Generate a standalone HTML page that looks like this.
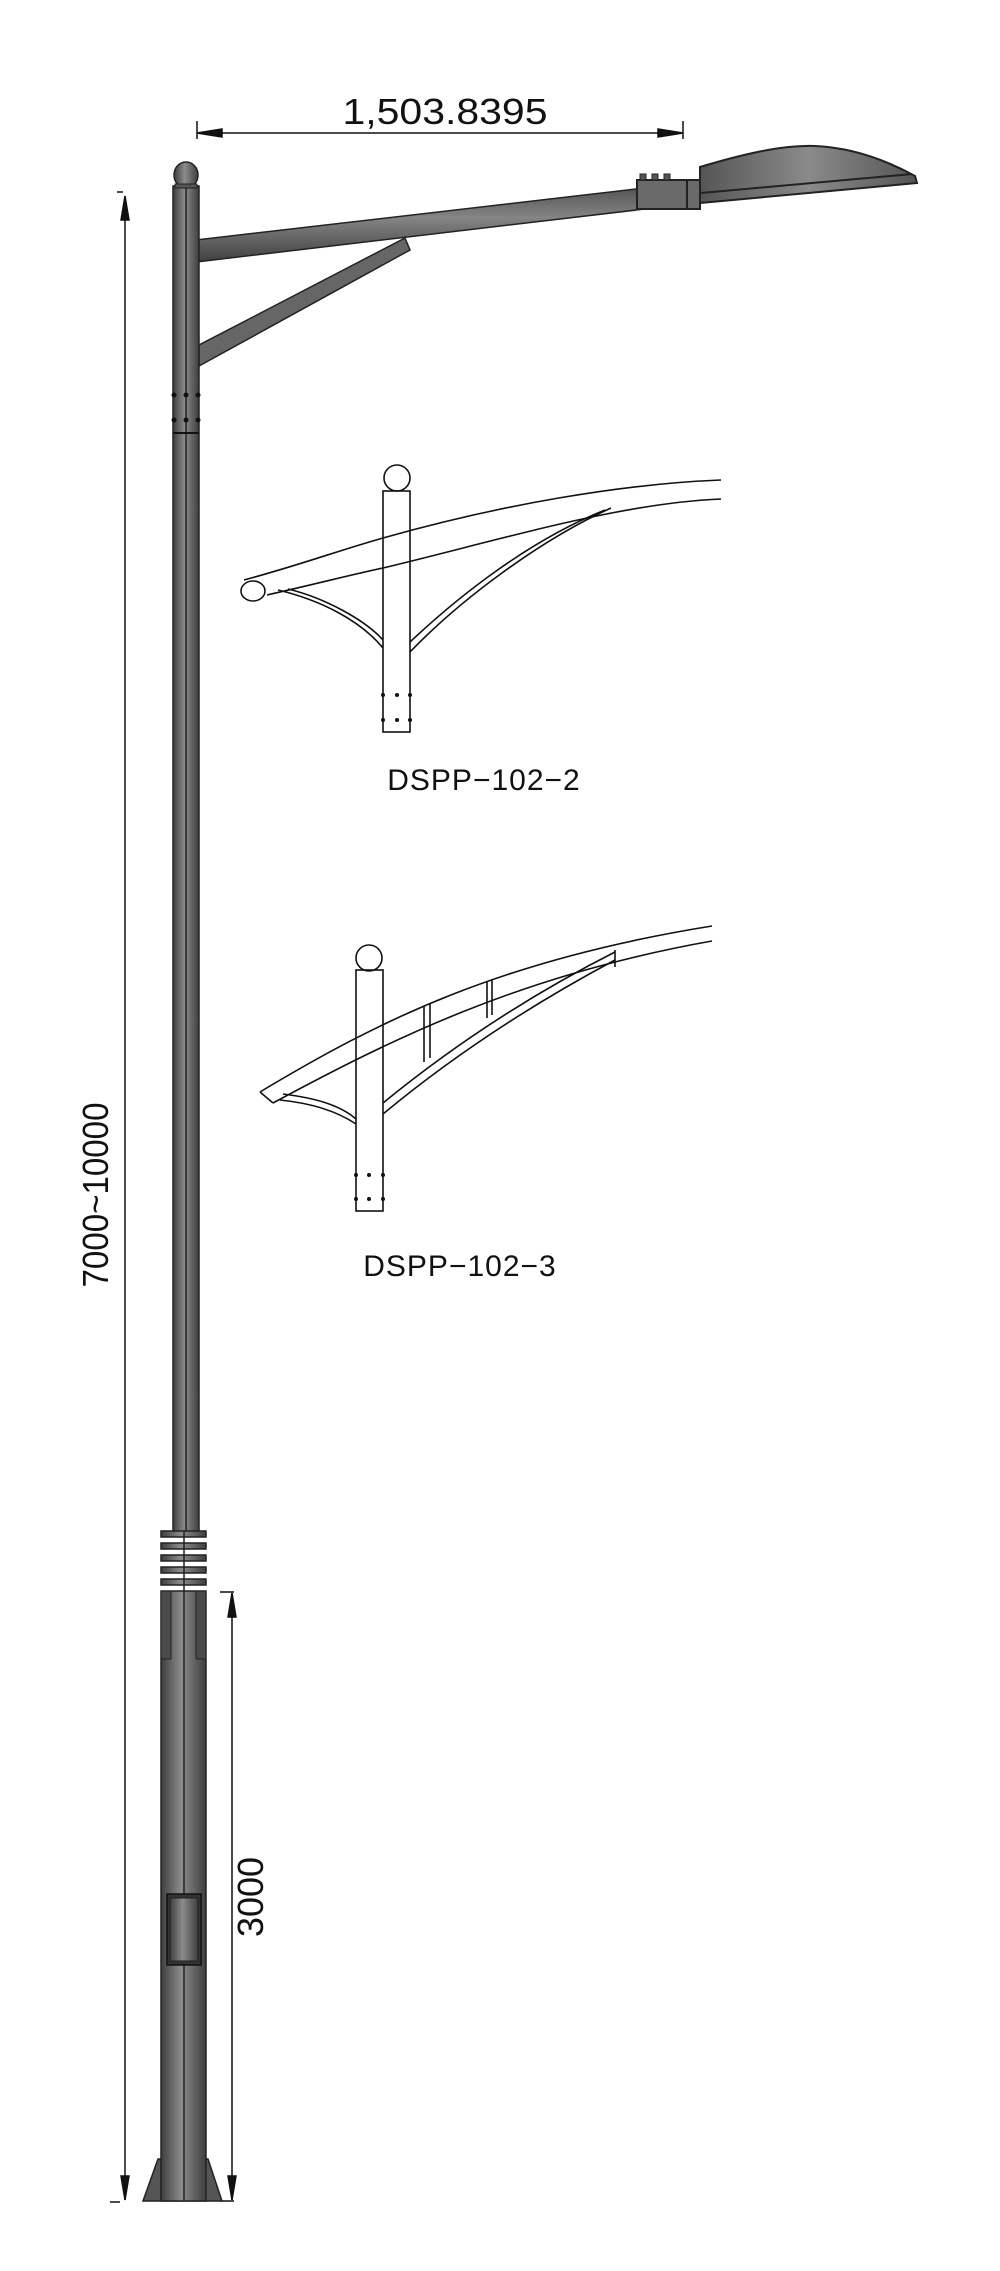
<!DOCTYPE html>
<html><head><meta charset="utf-8"><style>
html,body{margin:0;padding:0;background:#fff;}
svg{display:block;}
text{font-family:"Liberation Sans",sans-serif;}
</style></head><body>
<svg width="1000" height="2271" viewBox="0 0 1000 2271" xmlns="http://www.w3.org/2000/svg">
<defs>
<linearGradient id="pg" x1="0" x2="1" y1="0" y2="0">
<stop offset="0" stop-color="#3e3e3e"/><stop offset="0.45" stop-color="#8c8c8c"/><stop offset="1" stop-color="#3e3e3e"/></linearGradient>
<linearGradient id="ag" x1="0" x2="0" y1="0" y2="1">
<stop offset="0" stop-color="#555"/><stop offset="0.4" stop-color="#858585"/><stop offset="1" stop-color="#404040"/></linearGradient>
<linearGradient id="lg" x1="0" x2="1" y1="0" y2="0">
<stop offset="0" stop-color="#555"/><stop offset="0.5" stop-color="#8a8a8a"/><stop offset="1" stop-color="#555"/></linearGradient>
</defs>
<g stroke="#111" stroke-width="1.5">
<line x1="197" y1="133" x2="683" y2="133" />
<line x1="197" y1="121" x2="197" y2="139"/>
<line x1="683" y1="121" x2="683" y2="139"/>
<polygon points="197,133 222,129 222,137" fill="#111"/>
<polygon points="683,133 658,129 658,137" fill="#111"/>
<line x1="125" y1="196" x2="125" y2="2200"/>
<line x1="117" y1="192" x2="123" y2="192"/>
<line x1="110" y1="2202" x2="120" y2="2202"/>
<polygon points="125,196 121,220 129,220" fill="#111"/>
<polygon points="125,2200 121,2176 129,2176" fill="#111"/>
<line x1="232" y1="1593" x2="232" y2="2200"/>
<line x1="220" y1="1592" x2="234" y2="1592"/>
<line x1="220" y1="2201" x2="234" y2="2201"/>
<polygon points="232,1593 228,1617 236,1617" fill="#111"/>
<polygon points="232,2200 228,2176 236,2176" fill="#111"/>
</g>
<text x="445" y="124" font-size="36" text-anchor="middle" fill="#111" textLength="205" lengthAdjust="spacingAndGlyphs">1,503.8395</text>
<text transform="translate(108,1195) rotate(-90)" font-size="36" text-anchor="middle" fill="#111" textLength="185" lengthAdjust="spacingAndGlyphs">7000~10000</text>
<text transform="translate(263,1897) rotate(-90)" font-size="36" text-anchor="middle" fill="#111" textLength="80" lengthAdjust="spacingAndGlyphs">3000</text>

<polygon points="196,240 645,188 645,209 196,262" fill="url(#ag)" stroke="#222" stroke-width="1.5"/>
<polygon points="405,238 410,250 199,366 199,345" fill="#666" stroke="#222" stroke-width="1.5"/>
<rect x="637" y="180" width="63" height="29" fill="#6a6a6a" stroke="#222" stroke-width="2"/>
<line x1="687" y1="180" x2="687" y2="209" stroke="#222" stroke-width="2"/>
<rect x="640" y="174" width="6" height="6" fill="#555" stroke="#222"/>
<rect x="652" y="174" width="6" height="6" fill="#555" stroke="#222"/>
<rect x="664" y="174" width="6" height="6" fill="#555" stroke="#222"/>
<path d="M700,167 C740,155 780,145 815,146 C860,148 895,165 915,176 L917,183 L700,203 Z" fill="url(#lg)" stroke="#222" stroke-width="2"/>
<line x1="701" y1="193" x2="912" y2="174" stroke="#222" stroke-width="2"/>

<rect x="173" y="186" width="26" height="1350" fill="url(#pg)" stroke="#222" stroke-width="1.5"/>
<line x1="186" y1="186" x2="186" y2="1536" stroke="#222" stroke-width="1.5"/>
<ellipse cx="186" cy="175" rx="12" ry="13" fill="url(#pg)" stroke="#222" stroke-width="1.5"/>
<rect x="175" y="184" width="22" height="4" fill="#555" stroke="#222"/>
<g fill="#111">
<circle cx="174" cy="395" r="2.5"/><circle cx="186" cy="395" r="2.5"/><circle cx="198" cy="395" r="2.5"/>
<circle cx="174" cy="420" r="2.5"/><circle cx="186" cy="420" r="2.5"/><circle cx="198" cy="420" r="2.5"/>
</g>
<line x1="173" y1="433" x2="199" y2="433" stroke="#111" stroke-width="2"/>

<g fill="url(#pg)" stroke="#222" stroke-width="1.5">
<rect x="161" y="1531" width="45" height="6"/>
<rect x="161" y="1543" width="45" height="6"/>
<rect x="161" y="1555" width="45" height="6"/>
<rect x="161" y="1567" width="45" height="6"/>
<rect x="161" y="1579" width="45" height="6"/>
</g>
<polygon points="158,2159 143,2201 222,2201 208,2159" fill="#555" stroke="#222" stroke-width="1.5"/>
<rect x="161" y="1591" width="45" height="610" fill="url(#pg)" stroke="#222" stroke-width="1.5"/>
<rect x="161" y="1591" width="10" height="68" fill="#4a4a4a" stroke="#222"/>
<rect x="196" y="1591" width="10" height="68" fill="#4a4a4a" stroke="#222"/>
<line x1="184" y1="1531" x2="184" y2="2201" stroke="#222" stroke-width="1.5"/>
<rect x="167" y="1894" width="34" height="71" fill="#333" stroke="#111" stroke-width="1.5"/>
<rect x="170" y="1898" width="28" height="63" fill="url(#pg)" stroke="#222"/>

<!-- sketch 1 -->
<g fill="none" stroke="#111" stroke-width="1.6">
<path d="M244,580 C300,565 340,550 383,538 C500,505 620,484 721,480"/>
<path d="M267,595 C320,583 350,575 383,568 C500,540 620,503 721,499"/>
<ellipse cx="253" cy="591" rx="12" ry="10" fill="#fff"/>
<path d="M278,590 C320,600 360,620 383,648"/>
<path d="M288,589 C325,598 365,620 383,640"/>
<path d="M410,652 C460,600 540,540 611,508"/>
<path d="M410,642 C460,595 530,540 605,510"/>
<ellipse cx="397" cy="478" rx="13" ry="13" fill="#fff"/>
<rect x="383" y="491" width="27" height="241"/>
</g>
<g fill="#111">
<circle cx="383" cy="695" r="2"/><circle cx="397" cy="695" r="2"/><circle cx="410" cy="695" r="2"/>
<circle cx="383" cy="720" r="2"/><circle cx="397" cy="720" r="2"/><circle cx="410" cy="720" r="2"/>
</g>
<text x="484" y="790" font-size="30" text-anchor="middle" fill="#111" letter-spacing="1">DSPP−102−2</text>

<!-- sketch 2 -->
<g fill="none" stroke="#111" stroke-width="1.6">
<path d="M260,1092 C380,1020 500,960 712,926"/>
<path d="M273,1103 C390,1040 520,975 712,941"/>
<line x1="260" y1="1092" x2="273" y2="1103"/>
<path d="M283,1094 C315,1098 340,1105 356,1119"/>
<path d="M280,1100 C310,1103 335,1110 356,1124"/>
<path d="M383,1114 C460,1050 540,1000 615,960"/>
<path d="M383,1103 C460,1040 540,990 615,952"/>
<line x1="615" y1="950" x2="615" y2="967"/>
<line x1="424" y1="1006" x2="424" y2="1062"/>
<line x1="430" y1="1003" x2="430" y2="1058"/>
<line x1="487" y1="981" x2="487" y2="1018"/>
<line x1="492" y1="979" x2="492" y2="1015"/>
<ellipse cx="369" cy="958" rx="13" ry="13" fill="#fff"/>
<rect x="356" y="970" width="27" height="241"/>
</g>
<g fill="#111">
<circle cx="356" cy="1175" r="2"/><circle cx="369" cy="1175" r="2"/><circle cx="383" cy="1175" r="2"/>
<circle cx="356" cy="1199" r="2"/><circle cx="369" cy="1199" r="2"/><circle cx="383" cy="1199" r="2"/>
</g>
<text x="460" y="1276" font-size="30" text-anchor="middle" fill="#111" letter-spacing="1">DSPP−102−3</text>
</svg>
</body></html>
